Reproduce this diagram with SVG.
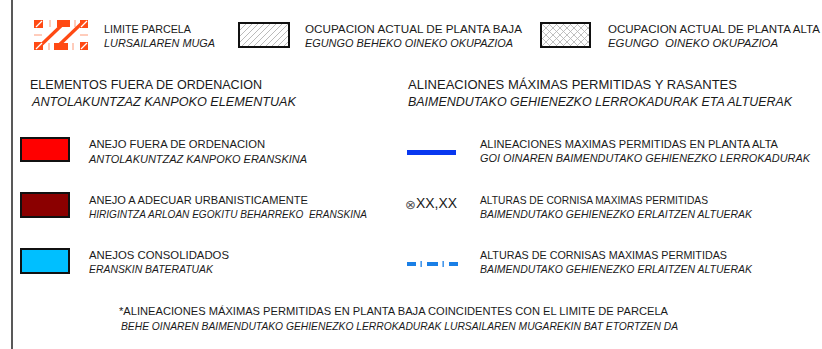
<svg xmlns="http://www.w3.org/2000/svg" width="822" height="349" viewBox="0 0 822 349">
<style>
text{font-family:"Liberation Sans",Arial,sans-serif;fill:#1a1a1a;white-space:pre}
.s{font-size:11px}
.h{font-size:13.5px}
.h2{font-size:13px}
.i{font-style:italic}
.box{stroke:#111;stroke-width:2}
.tick{stroke:#ff9a78;stroke-width:1}
</style>
<defs>
<pattern id="hatch" patternUnits="userSpaceOnUse" width="6" height="6">
<path d="M0,6 L6,0 M-1,1 L1,-1 M5,7 L7,5" stroke="#aaaaaa" stroke-width="0.8"/>
</pattern>
<pattern id="cross" patternUnits="userSpaceOnUse" width="7" height="7">
<path d="M0,7 L7,0 M-1,1 L1,-1 M6,8 L8,6 M0,0 L7,7 M-1,6 L1,8 M6,-1 L8,1" stroke="#b0b0b0" stroke-width="0.8"/>
</pattern>
</defs>
<rect width="822" height="349" fill="#ffffff"/>
<line x1="12" y1="0" x2="12" y2="349" stroke="#222" stroke-width="1.5"/>
<g id="connectors"/>

<g id="limite-parcela">
<g fill="#ff4a14">
<rect x="34" y="20" width="9" height="8"/>
<rect x="80" y="20" width="8" height="8"/>
<rect x="34" y="42" width="9" height="8"/>
<rect x="80" y="42" width="8" height="8"/>
<rect x="57" y="20" width="13" height="7"/>
<rect x="54" y="43" width="14" height="7"/>
</g>
<g class="tick">
<line x1="50" y1="20" x2="50" y2="27"/>
<line x1="75" y1="20" x2="75" y2="27"/>
<line x1="49" y1="43" x2="49" y2="50"/>
<line x1="73" y1="43" x2="73" y2="50"/>
<line x1="34" y1="35" x2="42" y2="35"/>
<line x1="80" y1="35" x2="88" y2="35"/>
</g>
<g stroke="#ff4a14" stroke-width="3.2">
<line x1="40" y1="46" x2="63" y2="24"/>
<line x1="58" y1="46" x2="81" y2="24"/>
</g>
<g stroke="#ffffff" stroke-width="1.2">
<line x1="36" y1="27" x2="42" y2="21"/>
<line x1="81" y1="27" x2="87" y2="21"/>
<line x1="36" y1="49" x2="42" y2="43"/>
<line x1="81" y1="49" x2="87" y2="43"/>
</g>
<text class="s" x="104" y="33" textLength="87" lengthAdjust="spacingAndGlyphs">LIMITE PARCELA</text>
<text class="s i" x="104" y="47" textLength="111" lengthAdjust="spacingAndGlyphs">LURSAILAREN MUGA</text>
</g>

<g id="ocupacion-baja">
<rect x="239" y="23" width="50" height="24" fill="#ffffff"/>
<rect x="239" y="23" width="50" height="24" fill="url(#hatch)" class="box"/>
<text class="s" x="305" y="33" textLength="217" lengthAdjust="spacingAndGlyphs">OCUPACION ACTUAL DE PLANTA BAJA</text>
<text class="s i" x="305" y="47" textLength="208" lengthAdjust="spacingAndGlyphs">EGUNGO BEHEKO OINEKO OKUPAZIOA</text>
</g>

<g id="ocupacion-alta">
<rect x="541" y="23" width="49" height="24" fill="#ffffff"/>
<rect x="541" y="23" width="49" height="24" fill="url(#cross)" class="box"/>
<text class="s" x="608" y="33" textLength="212" lengthAdjust="spacingAndGlyphs">OCUPACION ACTUAL DE PLANTA ALTA</text>
<text class="s i" x="608" y="47" textLength="170" lengthAdjust="spacingAndGlyphs">EGUNGO  OINEKO OKUPAZIOA</text>
</g>

<g id="titulo-elementos">
<text class="h" x="30" y="89" textLength="232" lengthAdjust="spacingAndGlyphs">ELEMENTOS FUERA DE ORDENACION</text>
<text class="h i" x="32" y="106" textLength="264" lengthAdjust="spacingAndGlyphs">ANTOLAKUNTZAZ KANPOKO ELEMENTUAK</text>
</g>

<g id="titulo-alineaciones">
<text class="h" x="408" y="89" textLength="329" lengthAdjust="spacingAndGlyphs">ALINEACIONES MÁXIMAS PERMITIDAS Y RASANTES</text>
<text class="h2 i" x="408" y="106" textLength="384" lengthAdjust="spacingAndGlyphs">BAIMENDUTAKO GEHIENEZKO LERROKADURAK ETA ALTUERAK</text>
</g>

<g id="anejo-fuera">
<rect x="21" y="138" width="48" height="23" fill="#ff0000" class="box"/>
<text class="s" x="89" y="148" textLength="176" lengthAdjust="spacingAndGlyphs">ANEJO FUERA DE ORDENACION</text>
<text class="s i" x="89" y="163" textLength="218" lengthAdjust="spacingAndGlyphs">ANTOLAKUNTZAZ KANPOKO ERANSKINA</text>
</g>

<g id="anejo-adecuar">
<rect x="21" y="193" width="48" height="24" fill="#8b0000" class="box"/>
<text class="s" x="89" y="204" textLength="219" lengthAdjust="spacingAndGlyphs">ANEJO A ADECUAR URBANISTICAMENTE</text>
<text class="s i" x="89" y="218" textLength="278" lengthAdjust="spacingAndGlyphs">HIRIGINTZA ARLOAN EGOKITU BEHARREKO  ERANSKINA</text>
</g>

<g id="anejos-consolidados">
<rect x="21" y="249" width="48" height="24" fill="#00bfff" class="box"/>
<text class="s" x="89" y="259" textLength="140" lengthAdjust="spacingAndGlyphs">ANEJOS CONSOLIDADOS</text>
<text class="s i" x="89" y="273" textLength="124" lengthAdjust="spacingAndGlyphs">ERANSKIN BATERATUAK</text>
</g>

<g id="alineaciones-alta">
<rect x="407" y="150" width="49" height="5" fill="#0838f0"/>
<text class="s" x="480" y="148" textLength="298" lengthAdjust="spacingAndGlyphs">ALINEACIONES MAXIMAS PERMITIDAS EN PLANTA ALTA</text>
<text class="s i" x="480" y="162" textLength="330" lengthAdjust="spacingAndGlyphs">GOI OINAREN BAIMENDUTAKO GEHIENEZKO LERROKADURAK</text>
</g>

<g id="alturas-cornisa">
<text x="405" y="209" style="font-family:'DejaVu Sans',sans-serif;font-size:13px;fill:#555">⊗</text>
<text x="416" y="208" style="font-size:14px" textLength="41" lengthAdjust="spacingAndGlyphs">XX,XX</text>
<text class="s" x="480" y="204" textLength="228" lengthAdjust="spacingAndGlyphs">ALTURAS DE CORNISA MAXIMAS PERMITIDAS</text>
<text class="s i" x="480" y="218" textLength="272" lengthAdjust="spacingAndGlyphs">BAIMENDUTAKO GEHIENEZKO ERLAITZEN ALTUERAK</text>
</g>

<g id="alturas-cornisas">
<g fill="#1a7fe6">
<rect x="407" y="262" width="9" height="4"/>
<rect x="420.5" y="261" width="1.3" height="6"/>
<rect x="427" y="262" width="11" height="4"/>
<rect x="442.5" y="261" width="1.3" height="6"/>
<rect x="449" y="262" width="9" height="4"/>
</g>
<text class="s" x="480" y="259" textLength="247" lengthAdjust="spacingAndGlyphs">ALTURAS DE CORNISAS MAXIMAS PERMITIDAS</text>
<text class="s i" x="480" y="273" textLength="272" lengthAdjust="spacingAndGlyphs">BAIMENDUTAKO GEHIENEZKO ERLAITZEN ALTUERAK</text>
</g>

<g id="nota">
<text class="s" x="119" y="315" textLength="549" lengthAdjust="spacingAndGlyphs">*ALINEACIONES MÁXIMAS PERMITIDAS EN PLANTA BAJA COINCIDENTES CON EL LIMITE DE PARCELA</text>
<text class="s i" x="121" y="330" textLength="557" lengthAdjust="spacingAndGlyphs">BEHE OINAREN BAIMENDUTAKO GEHIENEZKO LERROKADURAK LURSAILAREN MUGAREKIN BAT ETORTZEN DA</text>
</g>
</svg>
